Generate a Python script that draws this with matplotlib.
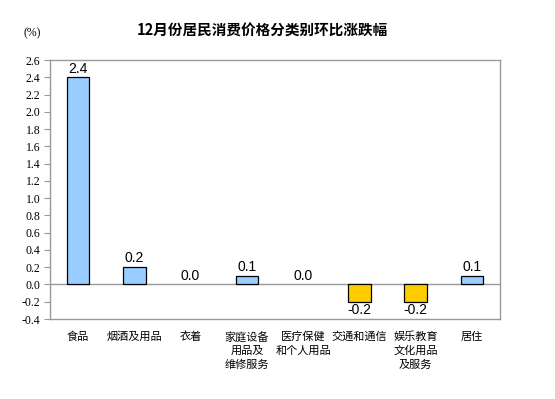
import numpy as np
import matplotlib
matplotlib.use('Agg')
import matplotlib.pyplot as plt

plt.rcParams['font.family'] = ['Noto Sans CJK SC', 'DejaVu Sans']

# dados do gráfico
categorias = ['食品', '烟酒及用品', '衣着', '家庭设备\n用品及\n维修服务', '医疗保健\n和个人用品',
              '交通和通信', '娱乐教育\n文化用品\n及服务', '居住']
valores = [2.4, 0.2, 0.0, 0.1, 0.0, -0.2, -0.2, 0.1]
yticks = np.round(np.arange(-0.4, 2.61, 0.2), 1)

fig = plt.figure(figsize=(5.55, 3.99), dpi=100)
ax = fig.add_axes([0.090, 0.2005, 0.811, 0.6491])

x = np.arange(len(valores))
cores = ['#99CCFF' if v >= 0 else '#FFCC00' for v in valores]
bordas = ['black' if v != 0 else 'none' for v in valores]  # barra zero não aparece
ax.bar(x, valores, width=0.4, color=cores, edgecolor=bordas, linewidth=0.9, zorder=3)
ax.axhline(0, color='#999999', linewidth=1, zorder=2)

for xi, v in zip(x, valores):
    if v >= 0:
        ax.text(xi, v + 0.02, f'{v:.1f}', ha='center', va='bottom', fontsize=10,
                family='Liberation Sans')
    else:
        ax.text(xi, v - 0.01, f'{v:.1f}', ha='center', va='top', fontsize=10,
                family='Liberation Sans')

ax.set_xlim(-0.5, len(valores) - 0.5)
ax.set_ylim(-0.4, 2.6)
ax.set_yticks(yticks)
ax.set_yticklabels([f'{t:.1f}' for t in yticks], family='Liberation Serif', fontsize=8.5)
ax.set_xticks(x)
ax.set_xticklabels(categorias, fontsize=8, linespacing=1.4, va='top')
ax.tick_params(axis='x', length=0, pad=9)
ax.tick_params(axis='y', length=4, color='#999999', direction='out', pad=3)
for s in ax.spines.values():
    s.set_color('#999999')
    s.set_linewidth(1)

fig.text(0.472, 0.922, '12月份居民消费价格分类别环比涨跌幅', ha='center', va='center',
         fontsize=10.5, fontweight='bold')
fig.text(0.043, 0.917, '(%)', ha='left', va='center', fontsize=8.5, family='Liberation Serif')

fig.savefig('out.png', dpi=100)
